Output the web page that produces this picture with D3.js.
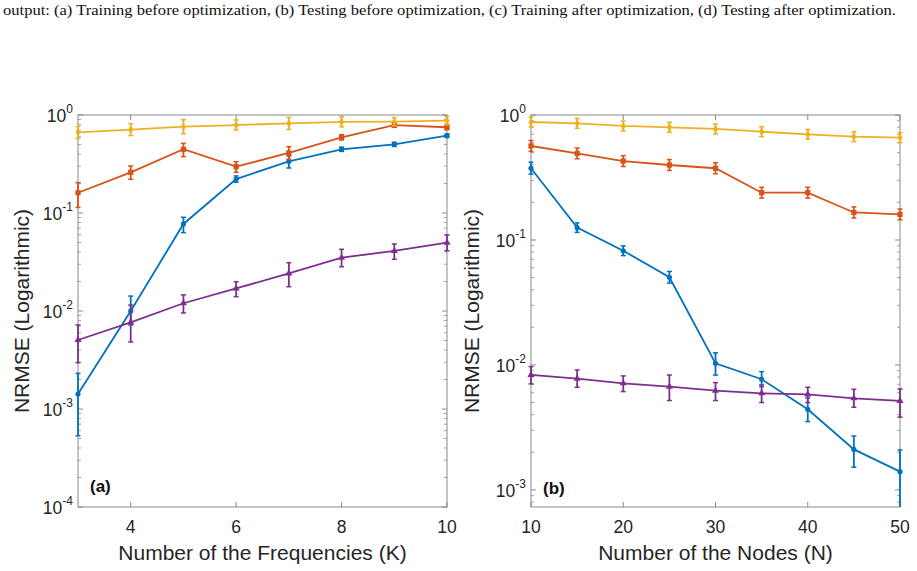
<!DOCTYPE html>
<html>
<head>
<meta charset="utf-8">
<script src="https://cdn.jsdelivr.net/npm/d3@7"></script>
<style>
  body { margin: 0; background: #fff; }
  svg { display: block; }
</style>
</head>
<body>
<svg id="chart" width="917" height="571"></svg>
<script>
// colours follow the matlab default order
let colors = ["#0072BD", "#D95319", "#EDB120", "#7E2F8E"]
let markers = ["circle", "square", "diamond", "triangle"]

// panel (a): number of frequencies K
let kValues = [3, 4, 5, 6, 7, 8, 9, 10]
let aBlue     = [0.00142, 0.0100, 0.0773, 0.222, 0.337, 0.447, 0.502, 0.615]
let aBlueLo   = [0.000534, 0.0072, 0.063, 0.206, 0.288, 0.425, 0.478, 0.59]
let aBlueHi   = [0.00231, 0.0142, 0.0904, 0.239, 0.382, 0.47, 0.527, 0.64]
let aOrange   = [0.161, 0.26, 0.447, 0.297, 0.41, 0.59, 0.79, 0.75]
let aOrangeLo = [0.114, 0.221, 0.376, 0.26, 0.353, 0.556, 0.748, 0.71]
let aOrangeHi = [0.204, 0.302, 0.514, 0.334, 0.475, 0.63, 0.835, 0.80]
let aYellow   = [0.665, 0.71, 0.76, 0.79, 0.82, 0.85, 0.855, 0.875]
let aYellowLo = [0.578, 0.617, 0.645, 0.702, 0.712, 0.756, 0.778, 0.796]
let aYellowHi = [0.765, 0.817, 0.896, 0.889, 0.944, 0.956, 0.94, 0.962]
let aPurple   = [0.00506, 0.00766, 0.012, 0.017, 0.0242, 0.035, 0.041, 0.0498]
let aPurpleLo = [0.00297, 0.00483, 0.00955, 0.014, 0.0177, 0.0283, 0.0337, 0.0412]
let aPurpleHi = [0.0072, 0.0115, 0.0146, 0.0199, 0.0311, 0.0426, 0.0483, 0.0597]

// panel (b): number of nodes N
let nValues = [10, 15, 20, 25, 30, 35, 40, 45, 50]
let bBlue     = [0.375, 0.1255, 0.082, 0.0503, 0.0103, 0.00768, 0.00442, 0.00211, 0.0014]
let bBlueLo   = [0.336, 0.115, 0.075, 0.0452, 0.0083, 0.0067, 0.00352, 0.00152, 0.0006]
let bBlueHi   = [0.419, 0.137, 0.0897, 0.056, 0.0125, 0.00884, 0.00544, 0.0027, 0.00209]
let bOrange   = [0.565, 0.493, 0.428, 0.398, 0.375, 0.239, 0.239, 0.166, 0.160]
let bOrangeLo = [0.511, 0.446, 0.387, 0.36, 0.339, 0.216, 0.216, 0.150, 0.145]
let bOrangeHi = [0.625, 0.545, 0.473, 0.44, 0.415, 0.264, 0.264, 0.184, 0.177]
let bYellow   = [0.879, 0.857, 0.817, 0.797, 0.773, 0.735, 0.700, 0.671, 0.659]
let bYellowLo = [0.802, 0.782, 0.745, 0.727, 0.705, 0.671, 0.639, 0.612, 0.601]
let bYellowHi = [0.963, 0.939, 0.895, 0.874, 0.847, 0.806, 0.767, 0.735, 0.722]
let bPurple   = [0.00832, 0.00778, 0.00713, 0.00671, 0.00623, 0.00593, 0.00582, 0.00541, 0.00515]
let bPurpleLo = [0.00705, 0.00663, 0.00612, 0.00519, 0.00519, 0.0050, 0.0050, 0.00459, 0.00382]
let bPurpleHi = [0.0097, 0.00912, 0.00817, 0.0083, 0.00722, 0.00692, 0.00663, 0.00639, 0.00643]

let aTicksX = [4, 6, 8, 10]
let bTicksX = [10, 20, 30, 40, 50]
let aTicksY = [-4, -3, -2, -1, 0]
let bTicksY = [-3, -2, -1, 0]

let caption = "output: (a) Training before optimization, (b) Testing before optimization, (c) Training after optimization, (d) Testing after optimization."

let svg = d3.select("#chart")
let axisGrey = "#8a8a8a"
let textCol = "#262626"

svg.append("text")
    .attr("x", 3)
    .attr("y", 15)
    .attr("font-family", "Liberation Serif, Times New Roman, serif")
    .attr("font-size", 14)
    .attr("textLength", 893)
    .attr("lengthAdjust", "spacingAndGlyphs")
    .attr("fill", "#111")
    .text(caption)

function series(xs, vals, los, his) {
    return xs.map((x, i) => ({x: x, y: vals[i], lo: los[i], hi: his[i]}))
}

function drawMarker(g, kind, color, px, py) {
    if (kind == "circle") {
        g.append("circle").attr("cx", px).attr("cy", py).attr("r", 2.6).attr("fill", color)
    } else if (kind == "square") {
        g.append("rect").attr("x", px - 2.6).attr("y", py - 2.6)
            .attr("width", 5.2).attr("height", 5.2).attr("fill", color)
    } else if (kind == "diamond") {
        g.append("path").attr("d", d3.symbol(d3.symbolDiamond, 22)()).attr("transform", `translate(${px},${py})`).attr("fill", color)
    } else {
        g.append("path").attr("d", d3.symbol(d3.symbolTriangle, 22)()).attr("transform", `translate(${px},${py})`).attr("fill", color)
    }
}

function drawPanel(cfg) {
    let x = d3.scaleLinear().domain(cfg.xDomain).range([cfg.left, cfg.right])
    let y = d3.scaleLog().domain(cfg.yDomain).range([cfg.bottom, cfg.top])
    let g = svg.append("g")

    // clip only vertically, markers at the ends stick out of the box
    let clipId = "clip" + cfg.id
    svg.append("clipPath").attr("id", clipId)
        .append("rect")
        .attr("x", cfg.left - 10).attr("y", cfg.top - 10)
        .attr("width", cfg.right - cfg.left + 20).attr("height", cfg.bottom - cfg.top + 10)

    // minor log ticks on left and right
    let minors = []
    let e0 = Math.floor(Math.log10(cfg.yDomain[0]))
    for (let e = e0; e < 0; e++) {
        for (let m = 2; m <= 9; m++) {
            let v = m * Math.pow(10, e)
            if (v >= cfg.yDomain[0] && v <= cfg.yDomain[1]) minors.push(v)
        }
    }
    minors.forEach(v => {
        g.append("line").attr("x1", cfg.left).attr("x2", cfg.left + 3)
            .attr("y1", y(v)).attr("y2", y(v)).attr("stroke", axisGrey).attr("stroke-width", 0.8)
        g.append("line").attr("x1", cfg.right).attr("x2", cfg.right - 3)
            .attr("y1", y(v)).attr("y2", y(v)).attr("stroke", axisGrey).attr("stroke-width", 0.8)
    })

    // major y ticks + labels
    cfg.yTicks.forEach(e => {
        let py = y(Math.pow(10, e))
        g.append("line").attr("x1", cfg.left).attr("x2", cfg.left + 5)
            .attr("y1", py).attr("y2", py).attr("stroke", axisGrey)
        g.append("line").attr("x1", cfg.right).attr("x2", cfg.right - 5)
            .attr("y1", py).attr("y2", py).attr("stroke", axisGrey)
        let t = g.append("text")
            .attr("x", cfg.left - 5)
            .attr("y", py + 7)
            .attr("text-anchor", "end")
            .attr("font-family", "Liberation Sans, Arial, sans-serif")
            .attr("fill", textCol)
        t.append("tspan").attr("font-size", 17.5).text("10")
        t.append("tspan").attr("font-size", 12).attr("dy", -9).text(e == 0 ? "0" : "-" + (-e))
    })

    // x ticks + labels
    cfg.xTicks.forEach(v => {
        let px = x(v)
        g.append("line").attr("x1", px).attr("x2", px)
            .attr("y1", cfg.bottom).attr("y2", cfg.bottom - 5).attr("stroke", axisGrey)
        g.append("line").attr("x1", px).attr("x2", px)
            .attr("y1", cfg.top).attr("y2", cfg.top + 5).attr("stroke", axisGrey)
        g.append("text")
            .attr("x", px)
            .attr("y", cfg.bottom + 26)
            .attr("text-anchor", "middle")
            .attr("font-family", "Liberation Sans, Arial, sans-serif")
            .attr("font-size", 17.5)
            .attr("fill", textCol)
            .text(v)
    })

    // box
    g.append("rect")
        .attr("x", cfg.left).attr("y", cfg.top)
        .attr("width", cfg.right - cfg.left).attr("height", cfg.bottom - cfg.top)
        .attr("fill", "none").attr("stroke", axisGrey).attr("stroke-width", 1)

    // series
    let plot = g.append("g").attr("clip-path", `url(#${clipId})`)
    let line = d3.line().x(d => x(d.x)).y(d => y(d.y))
    cfg.series.forEach((s, k) => {
        let col = colors[k]
        plot.append("path").datum(s)
            .attr("d", line)
            .attr("fill", "none")
            .attr("stroke", col)
            .attr("stroke-width", 1.8)
        s.forEach(d => {
            let px = x(d.x)
            plot.append("line").attr("x1", px).attr("x2", px)
                .attr("y1", y(d.lo)).attr("y2", y(d.hi))
                .attr("stroke", col).attr("stroke-width", 1.8)
            plot.append("line").attr("x1", px - 2.5).attr("x2", px + 2.5)
                .attr("y1", y(d.lo)).attr("y2", y(d.lo))
                .attr("stroke", col).attr("stroke-width", 1.5)
            plot.append("line").attr("x1", px - 2.5).attr("x2", px + 2.5)
                .attr("y1", y(d.hi)).attr("y2", y(d.hi))
                .attr("stroke", col).attr("stroke-width", 1.5)
            drawMarker(plot, markers[k], col, px, y(d.y))
        })
    })

    // panel tag
    g.append("text")
        .attr("x", cfg.tagX)
        .attr("y", cfg.tagY)
        .attr("font-family", "Liberation Sans, Arial, sans-serif")
        .attr("font-size", 17)
        .attr("font-weight", "bold")
        .attr("fill", "#111")
        .text(cfg.tag)

    // axis titles
    g.append("text")
        .attr("x", (cfg.left + cfg.right) / 2)
        .attr("y", 560)
        .attr("text-anchor", "middle")
        .attr("font-family", "Liberation Sans, Arial, sans-serif")
        .attr("font-size", 21)
        .attr("fill", textCol)
        .text(cfg.xTitle)
    g.append("text")
        .attr("transform", `translate(${cfg.yTitleX},${cfg.yTitleY}) rotate(-90)`)
        .attr("text-anchor", "middle")
        .attr("font-family", "Liberation Sans, Arial, sans-serif")
        .attr("font-size", 21)
        .attr("fill", textCol)
        .text("NRMSE (Logarithmic)")
}

drawPanel({
    id: "a",
    left: 78, right: 447, top: 115, bottom: 507,
    xDomain: [3, 10], yDomain: [1e-4, 1],
    xTicks: aTicksX, yTicks: aTicksY,
    series: [
        series(kValues, aBlue, aBlueLo, aBlueHi),
        series(kValues, aOrange, aOrangeLo, aOrangeHi),
        series(kValues, aYellow, aYellowLo, aYellowHi),
        series(kValues, aPurple, aPurpleLo, aPurpleHi)
    ],
    tag: "(a)", tagX: 90, tagY: 492,
    xTitle: "Number of the Frequencies (K)",
    yTitleX: 29, yTitleY: 311
})

drawPanel({
    id: "b",
    left: 531, right: 900, top: 115, bottom: 507,
    xDomain: [10, 50], yDomain: [7.3e-4, 1],
    xTicks: bTicksX, yTicks: bTicksY,
    series: [
        series(nValues, bBlue, bBlueLo, bBlueHi),
        series(nValues, bOrange, bOrangeLo, bOrangeHi),
        series(nValues, bYellow, bYellowLo, bYellowHi),
        series(nValues, bPurple, bPurpleLo, bPurpleHi)
    ],
    tag: "(b)", tagX: 543, tagY: 494,
    xTitle: "Number of the Nodes (N)",
    yTitleX: 479, yTitleY: 311
})
</script>
</body>
</html>
